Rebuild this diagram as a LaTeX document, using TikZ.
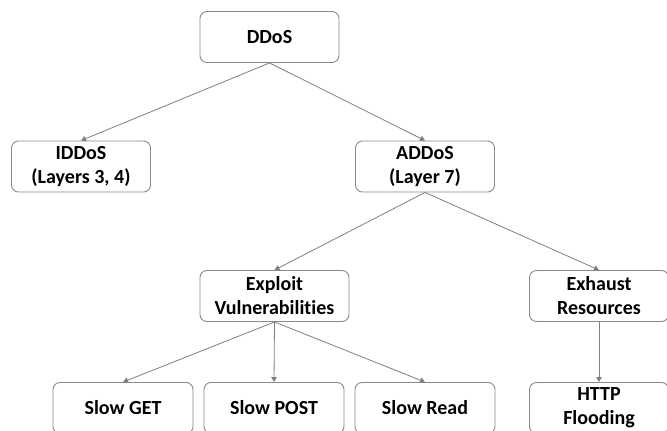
\documentclass[tikz,border=0pt]{standalone}
\usepackage{fontspec}
\setmainfont{Carlito}[Ligatures=NoCommon]
\usetikzlibrary{arrows.meta}
\definecolor{edgegray}{HTML}{7F7F7F}
\definecolor{boxgray}{HTML}{8A8A8A}
\tikzset{
  box/.style={draw=boxgray, line width=0.9pt, rounded corners=7pt, fill=white,
    minimum width=139pt, minimum height=51pt, inner sep=0pt, align=center,
    font=\fontsize{20}{24}\selectfont\bfseries},
  link/.style={draw=edgegray, line width=0.8pt,
    -{Triangle[length=5pt,width=5.5pt]}}
}
\begin{document}
\begin{tikzpicture}[x=1pt,y=-1pt]
\useasboundingbox (0,0) rectangle (667,431);
\node[box] (ddos) at (269.5,37) {DDoS};
\node[box] (iddos) at (81,166.5) {IDDoS\\(Layers 3, 4)};
\node[box] (addos) at (425,166.5) {ADDoS\\(Layer 7)};
\node[box, minimum width=149pt] (exploit) at (274.5,296) {Exploit\\Vulnerabilities};
\node[box] (exhaust) at (599,296) {Exhaust\\Resources};
\node[box, minimum width=140pt] (sget) at (123,408) {Slow GET};
\node[box, minimum width=140pt] (spost) at (274,408) {Slow POST};
\node[box, minimum width=140pt] (sread) at (425,408) {Slow Read};
\node[box] (http) at (599,408) {HTTP\\Flooding};
\draw[link] (ddos.south) -- (iddos.north);
\draw[link] (ddos.south) -- (addos.north);
\draw[link] (addos.south) -- (exploit.north);
\draw[link] (addos.south) -- (exhaust.north);
\draw[link] (exploit.south) -- (sget.north);
\draw[link] (exploit.south) -- (spost.north);
\draw[link] (exploit.south) -- (sread.north);
\draw[link] (exhaust.south) -- (http.north);
\end{tikzpicture}
\end{document}
